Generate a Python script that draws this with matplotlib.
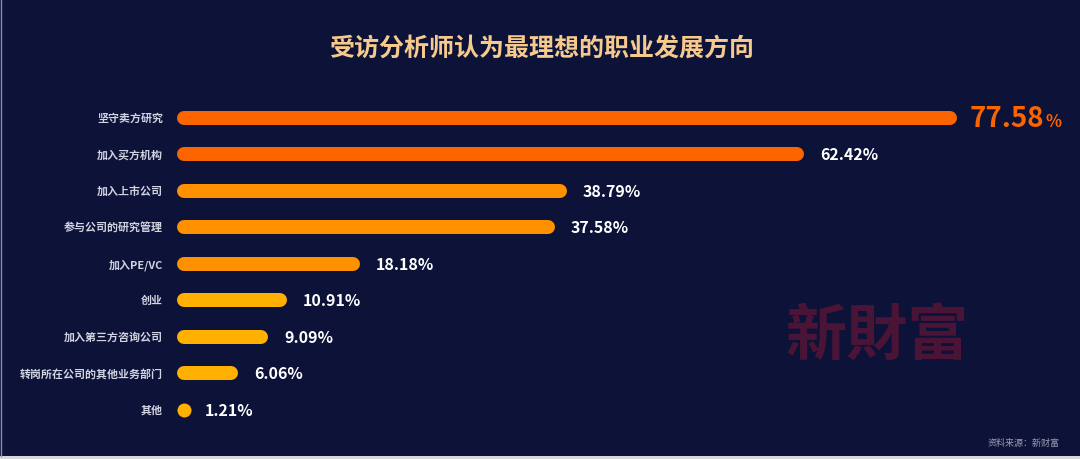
import matplotlib
matplotlib.use('Agg')
import matplotlib.pyplot as plt

plt.rcParams['font.family'] = ['Noto Sans CJK SC', 'DejaVu Sans']

BG = '#0c1238'

categories = ['坚守卖方研究', '加入买方机构', '加入上市公司', '参与公司的研究管理', '加入PE/VC',
              '创业', '加入第三方咨询公司', '转岗所在公司的其他业务部门', '其他']
values = [77.58, 62.42, 38.79, 37.58, 18.18, 10.91, 9.09, 6.06, 1.21]
bar_colors = ['#fb6500', '#fb6500', '#ff9100', '#ff9100', '#ff9100',
              '#ffb000', '#ffb000', '#ffb000', '#ffb000']
title = '受访分析师认为最理想的职业发展方向'
source = '资料来源：新财富'
watermark = '新財富'

W, H = 1080, 460
fig = plt.figure(figsize=(W / 100, H / 100), dpi=100, facecolor=BG)

# axes in pixel terms: x starts at 177px, ~10.05 px per percent
px_per_pct = 10.05
xmax = 85
ax_left, ax_top, ax_bot = 177, 100.5, 429
ax = fig.add_axes([ax_left / W, 1 - ax_bot / H, xmax * px_per_pct / W, (ax_bot - ax_top) / H])
ax.set_facecolor(BG)
ax.set_xlim(0, xmax)
ax.set_ylim(len(values) - 0.5, -0.5)
ax.axis('off')

bar_h_px = 14
lw = bar_h_px * 72 / 100
r = (bar_h_px / 2) / px_per_pct  # cap radius in data units

for i, (v, c) in enumerate(zip(values, bar_colors)):
    x1 = v - r
    if x1 > r:
        ax.plot([r, x1], [i, i], color=c, lw=lw, solid_capstyle='round', clip_on=False)
    else:
        # too short for a bar -> just the round end
        ax.plot([r], [i], marker='o', ms=lw, mew=0, color=c, clip_on=False)
    ax.text(-14 / px_per_pct, i, categories[i], ha='right', va='center',
            fontsize=7.9, color='#d2d4e2', fontweight='bold')
    if i == 0:
        t = ax.text(v + 13 / px_per_pct, i, f'{v:.2f}', ha='left', va='center',
                    fontsize=20, color='#fb6500', fontweight='bold', clip_on=False)
        fig.canvas.draw()
        bb = t.get_window_extent()
        xr = ax.transData.inverted().transform((bb.x1 + 1, 0))[0]
        ax.text(xr, i + 0.08, '%', ha='left', va='center',
                fontsize=12, color='#fb6500', fontweight='bold', clip_on=False)
    else:
        ax.text(v + 16 / px_per_pct, i, f'{v:.2f}%', ha='left', va='center',
                fontsize=11.5, color='white', fontweight='bold', clip_on=False)

fig.text(542 / W, 1 - 49 / H, title, ha='center', va='center',
         fontsize=18, color='#f6ca8c', fontweight='bold')

fig.text(877 / W, 1 - 337 / H, watermark, ha='center', va='center',
         fontsize=44, color='#4a1436', fontweight='bold',
         family=['Noto Sans CJK TC', 'DejaVu Sans'])

fig.text(1060 / W, 1 - 443 / H, source, ha='right', va='center',
         fontsize=6.5, color='#9a9cb0')

# thin light edges on the left and bottom of the picture
fig.add_artist(plt.Line2D([0.5 / W, 0.5 / W], [3 / H, 1], color='#8a8ea8', lw=1))
fig.add_artist(plt.Rectangle((0, 0), 1, 3 / H, color='#d8d8dc', lw=0))

fig.savefig('out.png', dpi=100, facecolor=BG)
